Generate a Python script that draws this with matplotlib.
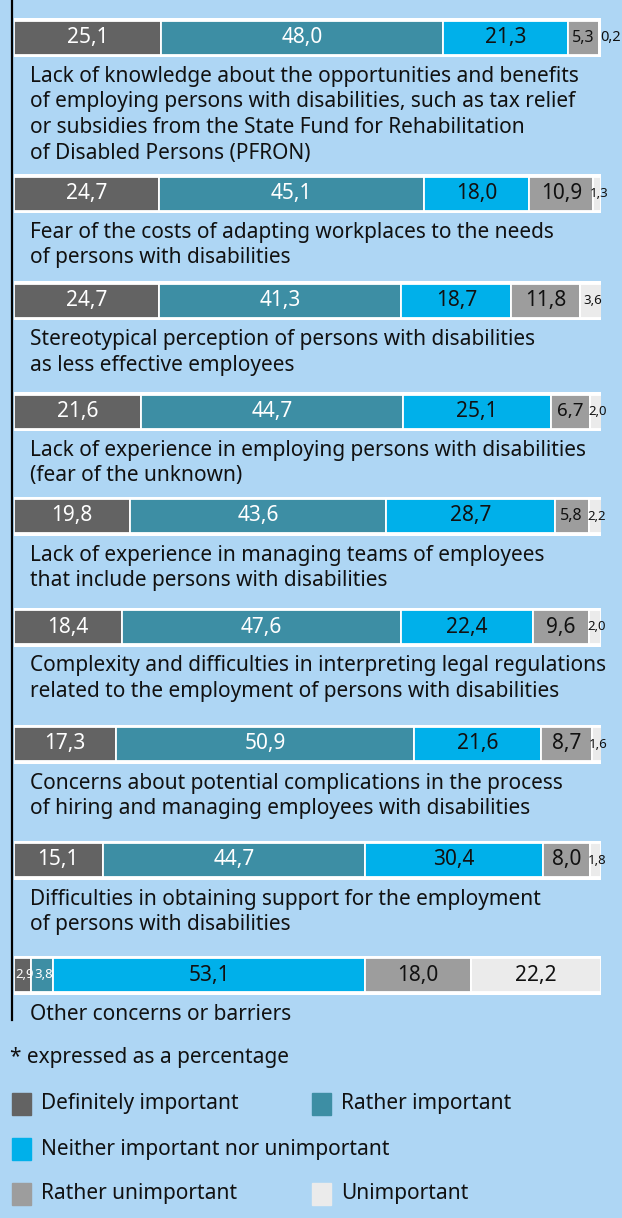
import matplotlib
matplotlib.use("Agg")
import matplotlib.pyplot as plt
import numpy as np

plt.rcParams['font.family'] = ['Noto Sans', 'DejaVu Sans']

# ---- data ----
categories = [
    "Lack of knowledge about the opportunities and benefits\nof employing persons with disabilities, such as tax relief\nor subsidies from the State Fund for Rehabilitation\nof Disabled Persons (PFRON)",
    "Fear of the costs of adapting workplaces to the needs\nof persons with disabilities",
    "Stereotypical perception of persons with disabilities\nas less effective employees",
    "Lack of experience in employing persons with disabilities\n(fear of the unknown)",
    "Lack of experience in managing teams of employees\nthat include persons with disabilities",
    "Complexity and difficulties in interpreting legal regulations\nrelated to the employment of persons with disabilities",
    "Concerns about potential complications in the process\nof hiring and managing employees with disabilities",
    "Difficulties in obtaining support for the employment\nof persons with disabilities",
    "Other concerns or barriers",
]
series_names = ["Definitely important", "Rather important",
                "Neither important nor unimportant",
                "Rather unimportant", "Unimportant"]
definitely = [25.1, 24.7, 24.7, 21.6, 19.8, 18.4, 17.3, 15.1, 2.9]
rather = [48.0, 45.1, 41.3, 44.7, 43.6, 47.6, 50.9, 44.7, 3.8]
neither = [21.3, 18.0, 18.7, 25.1, 28.7, 22.4, 21.6, 30.4, 53.1]
rather_un = [5.3, 10.9, 11.8, 6.7, 5.8, 9.6, 8.7, 8.0, 18.0]
unimportant = [0.2, 1.3, 3.6, 2.0, 2.2, 2.0, 1.6, 1.8, 22.2]
footnote = "* expressed as a percentage"

# ---- style / layout ----
colors = ["#636363", "#3d8ea4", "#00b0ea", "#9d9d9d", "#ebebeb"]
text_colors = ["white", "white", "#111111", "#111111", "#111111"]
BG = "#aed6f4"
bar_y = [37.5, 193.5, 300.5, 411.5, 516, 627, 744, 860, 975]  # pixel centres
W, H = 622, 1218

fig = plt.figure(figsize=(W / 100, H / 100), dpi=100)
fig.patch.set_facecolor(BG)

# overlay axes in pixel units for texts / legend
lay = fig.add_axes([0, 0, 1, 1])
lay.set_xlim(0, W); lay.set_ylim(H, 0); lay.axis("off")

# bar axes: 0..100 % spans x=14..601 px
ax = fig.add_axes([14 / W, 0, 587 / W, 1])
ax.set_xlim(0, 100); ax.set_ylim(H, 0); ax.axis("off")
ax.patch.set_alpha(0)

series = [definitely, rather, neither, rather_un, unimportant]
ys = np.array(bar_y)

# white frame behind each bar
ax.barh(ys, 100.3, left=-0.2, height=39, color="white", zorder=1)

left = np.zeros(len(categories))
for vals, col, tc in zip(series, colors, text_colors):
    vals = np.array(vals)
    ax.barh(ys, vals, left=left, height=34, color=col,
            edgecolor="white", linewidth=1.3, zorder=2)
    for y, l, v in zip(ys, left, vals):
        lab = f"{v:.1f}".replace(".", ",")
        if v < 1:
            # too thin to hold its label: put it just right of the bar
            ax.text(l + v + 0.05, y, lab, ha="left", va="center",
                    fontsize=10.5, color="#111111", zorder=3, clip_on=False)
        elif v < 4.5:
            ax.text(l + v / 2 + 0.3, y, lab, ha="center", va="center",
                    fontsize=9.5, color=tc, zorder=3, clip_on=False)
        elif v < 6:
            ax.text(l + v / 2, y, lab, ha="center", va="center",
                    fontsize=11.5, color=tc, zorder=3)
        elif v < 7:
            ax.text(l + v / 2, y, lab, ha="center", va="center",
                    fontsize=13.5, color=tc, zorder=3)
        else:
            ax.text(l + v / 2, y, lab, ha="center", va="center",
                    fontsize=15, color=tc, zorder=3)
    left = left + vals

# category labels below bars, one line at a time
for y, cat in zip(ys, categories):
    for i, line in enumerate(cat.split("\n")):
        lay.text(30, y + 39 + i * 25.5, line, ha="left", va="center",
                 fontsize=15, color="#111111")

# vertical axis line
lay.plot([12, 12], [0, 1020], color="black", linewidth=1.6)

# footnote
lay.text(10, 1058, footnote, ha="left", va="center", fontsize=15, color="#111111")

# legend
leg_pos = [(12, 1104), (312, 1104), (12, 1149), (12, 1194), (312, 1194)]
for (lx, ly), name, col in zip(leg_pos, series_names, colors):
    lay.add_patch(plt.Rectangle((lx, ly - 11), 19, 22, color=col))
    lay.text(lx + 29, ly, name, ha="left", va="center", fontsize=15, color="#111111")

fig.savefig("out.png", dpi=100, facecolor=BG)
